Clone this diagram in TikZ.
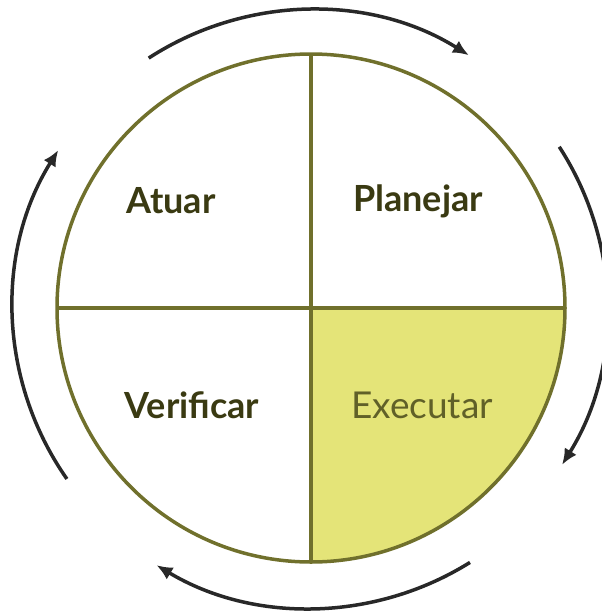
\documentclass[tikz,border=0pt]{standalone}
\usepackage{fontspec}
\setmainfont{Lato}
\usetikzlibrary{arrows.meta}
\definecolor{olive1}{RGB}{112,112,44}
\definecolor{fillY}{RGB}{228,228,120}
\definecolor{txt}{RGB}{58,58,18}
\definecolor{txtE}{RGB}{96,96,40}
\definecolor{arc}{RGB}{40,40,40}
\begin{document}
\begin{tikzpicture}[x=1pt,y=-1pt,
  cyc/.style={draw=arc,line width=3.5pt,-{Latex[length=16pt,width=14pt]}},
  lab/.style={font=\fontsize{36}{40}\selectfont\bfseries,text=txt,inner sep=0pt},
  labE/.style={font=\fontsize{37}{40}\selectfont,text=txtE,inner sep=0pt}]
\useasboundingbox (0,0) rectangle (602,614);
\coordinate (c) at (311,308);
\fill[fillY] (c) -- ++(254pt,0pt) arc[start angle=0,end angle=-90,radius=254pt] -- cycle;
\draw[olive1,line width=3.5pt] (c) ++(-254pt,0pt) -- ++(508pt,0pt);
\draw[olive1,line width=3.5pt] (c) ++(0pt,-254pt) -- ++(0pt,508pt);
\node[draw=olive1,line width=3.5pt,circle,minimum size=508pt,inner sep=0pt] (circ) at (c) {};
\node[lab] (atuar) at (171,201) {Atuar};
\node[lab] (plan) at (418,201) {Planejar};
\node[lab] (verif) at (192,405) {Verificar};
\node[labE] (exec) at (422,405) {Executar};
\draw[cyc] (c) ++(123:298pt) arc[start angle=123,end angle=58,radius=298pt];
\draw[cyc] (c) ++(33:296pt) arc[start angle=33,end angle=-32,radius=296pt];
\draw[cyc] (c) ++(-58:300pt) arc[start angle=-58,end angle=-121,radius=300pt];
\draw[cyc] (c) ++(215:298pt) arc[start angle=215,end angle=148,radius=298pt];
\end{tikzpicture}
\end{document}
